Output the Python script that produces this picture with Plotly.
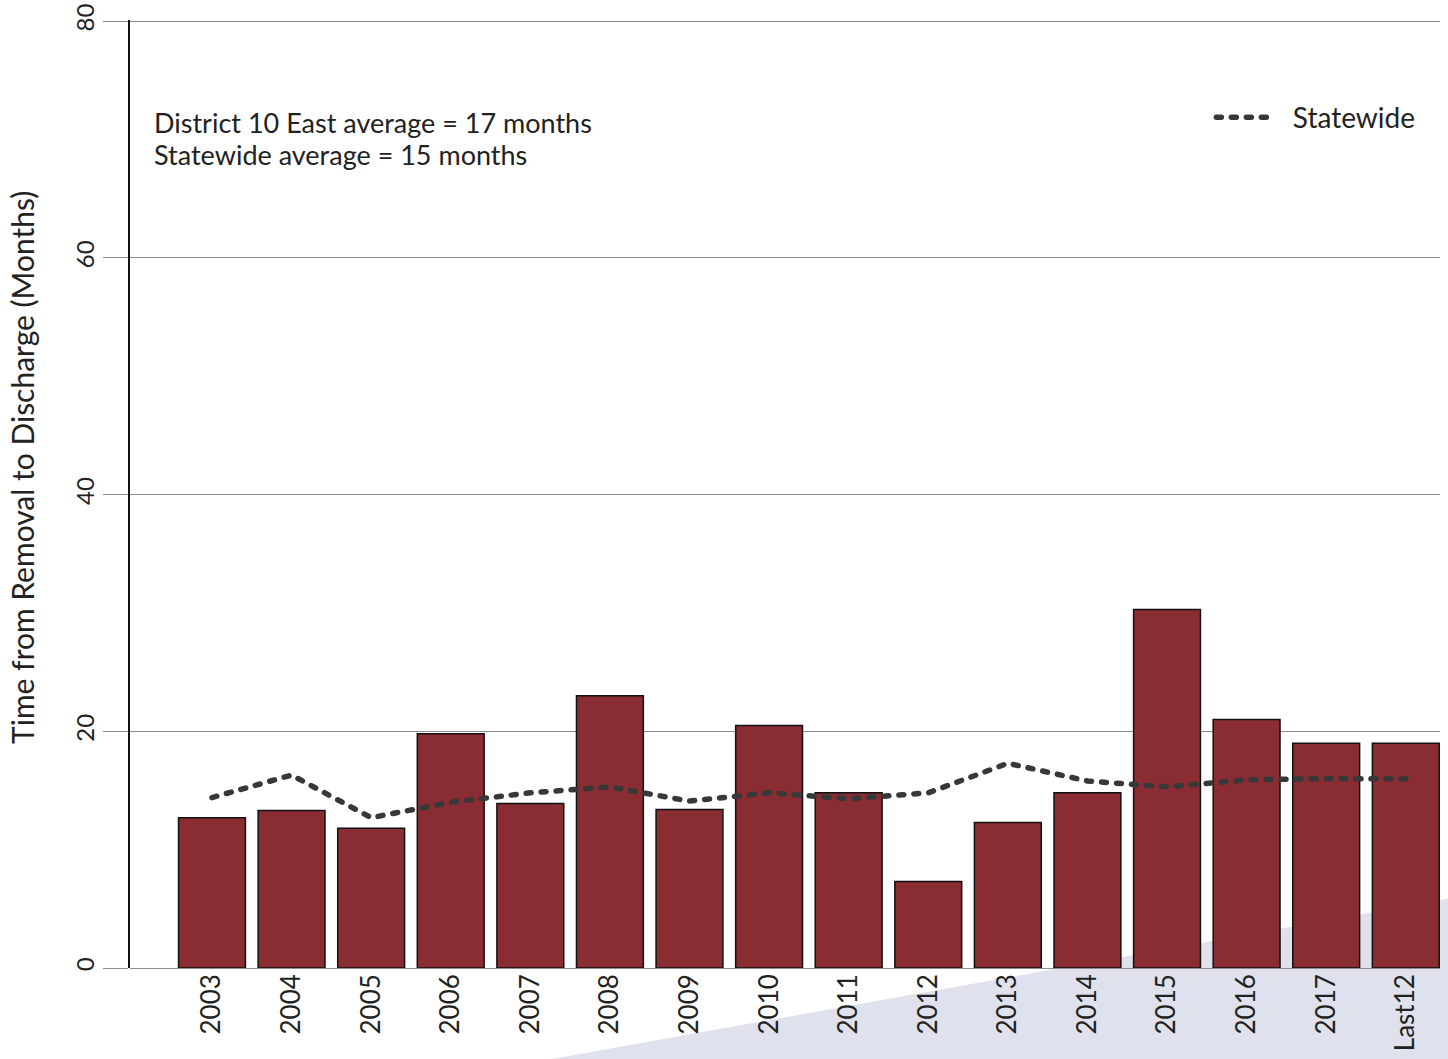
import plotly.graph_objects as go

categories = ["2003", "2004", "2005", "2006", "2007", "2008", "2009", "2010",
              "2011", "2012", "2013", "2014", "2015", "2016", "2017", "Last12"]
district_values = [12.7, 13.3, 11.8, 19.8, 13.9, 23.0, 13.4, 20.5,
                   14.8, 7.3, 12.3, 14.8, 30.3, 21.0, 19.0, 19.0]
statewide_values = [14.4, 16.3, 12.7, 14.0, 14.8, 15.3, 14.1, 14.8,
                    14.3, 14.8, 17.3, 15.8, 15.3, 15.9, 16.0, 16.0]
y_ticks = [0, 20, 40, 60, 80]
y_title = "Time from Removal to Discharge (Months)"
annotation_lines = ["District 10 East average = 17 months",
                    "Statewide average = 15 months"]

FONT = "Century Gothic, Lato, sans-serif"

fig = go.Figure()
fig.add_trace(go.Bar(
    x=categories, y=district_values, name="District 10 East",
    marker=dict(color="#8A2D33", line=dict(color="#111111", width=1.5)),
    showlegend=False,
))
fig.add_trace(go.Scatter(
    x=categories, y=statewide_values, name="\u00a0\u00a0\u00a0Statewide", mode="lines",
    line=dict(color="#383838", width=5.5, dash="5px,10px"),
))

for i, line_text in enumerate(annotation_lines):
    fig.add_annotation(
        xref="paper", yref="paper", x=0.017, y=0.8914 - i * 0.0328,
        xanchor="left", yanchor="middle",
        text=line_text, showarrow=False, align="left",
        font=dict(family=FONT, size=27, color="#222222"),
    )

# y-axis title placed as rotated annotation
fig.add_annotation(
    xref="paper", yref="paper", x=-0.0825, y=0.5285,
    xanchor="center", yanchor="middle", textangle=-90,
    text=y_title, showarrow=False,
    font=dict(family=FONT, size=30, color="#222222"),
)

fig.add_shape(
    type="path", xref="paper", yref="paper", layer="below",
    path="M 0.322 -0.096 L 1.01 0.074 L 1.01 -0.096 Z",
    fillcolor="#DFE2EC", line=dict(width=0),
)

fig.update_layout(
    width=1448, height=1059,
    margin=dict(l=130, r=8, t=20, b=91),
    paper_bgcolor="white", plot_bgcolor="rgba(0,0,0,0)",
    bargap=0.16,
    font=dict(family=FONT, size=26, color="#222222"),
    legend=dict(x=0.985, xanchor="right", y=0.897, yanchor="middle",
                bgcolor="rgba(0,0,0,0)", font=dict(size=28), itemwidth=50),
    xaxis=dict(
        range=[-1.03, 15.43], tickangle=-90, showgrid=False, automargin=False,
        tickfont=dict(size=26), ticks="", showline=False, zeroline=False,
    ),
    yaxis=dict(
        range=[0, 80.1], tickvals=y_ticks, tickangle=-90, automargin=False,
        ticklabeloverflow="allow",
        showgrid=True, gridcolor="#8c8c8c", gridwidth=1,
        zeroline=True, zerolinecolor="#8c8c8c", zerolinewidth=1,
        showline=True, linecolor="#111111", linewidth=1.5,
        ticks="outside", ticklen=25, tickcolor="#8c8c8c",
        tickfont=dict(size=24),
    ),
)

post_js = (
    "document.body.style.margin='0';document.body.style.overflow='hidden';"
    "document.querySelectorAll('.scatterlayer path.js-line, .legend path.js-line')"
    ".forEach(function(p){p.style.strokeLinecap='round';});"
)

fig.write_html("out.html", config={"displayModeBar": False}, post_script=post_js)
